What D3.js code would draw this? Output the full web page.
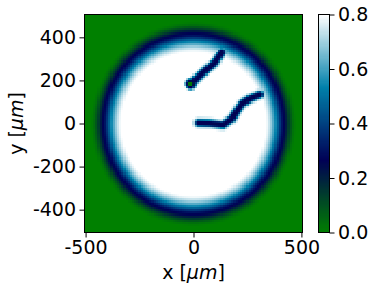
<!DOCTYPE html>
<html>
<head>
<meta charset="utf-8">
<script src="https://cdnjs.cloudflare.com/ajax/libs/d3/7.8.5/d3.min.js"></script>
<style>
  html, body { margin: 0; padding: 0; background: #fff; }
  svg { display: block; }
  text { font-family: "DejaVu Sans", sans-serif; fill: #000; }
  .tick text { font-size: 19px; }
  .axis-title { font-size: 19px; }
</style>
</head>
<body>
<svg id="chart"></svg>
<script>
// values
const xTicks = [-500, 0, 500];
const yTicks = [-400, -200, 0, 200, 400];
const barTicks = [0, 0.2, 0.4, 0.6, 0.8];

// field value against distance from the centre (um)
const ringDist = [0, 335, 345, 359, 378, 396, 405, 415, 424, 433, 443, 461, 475, 720];
const ringValue = [0.8, 0.8, 0.77, 0.7, 0.57, 0.42, 0.34, 0.28, 0.25, 0.19, 0.12, 0.03, 0, 0];

// field value against distance from a crack (um)
const crackDist = [0, 7, 12, 17, 22, 30];
const crackValue = [0.25, 0.27, 0.36, 0.55, 0.72, 0.8];

// cracks as [x, y] in um
const crackA = [[-13, 186], [45, 240], [100, 286], [131, 333]];
const crackB = [[22, 5], [76, 3], [137, -4], [177, 24], [223, 93], [262, 119], [308, 137]];
// green spot at the start of the upper crack
const spot = [-13, 186];
const spotDist = [0, 9, 13, 18, 25, 32];
const spotValue = [0, 0.03, 0.2, 0.3, 0.55, 0.8];

const gridEdges = d3.range(-505, 505, 10);

const width = 373;
const height = 292;
const margin = { top: 14.5, right: 70.5, bottom: 59.5, left: 84.5 };

const x = d3.scaleLinear().domain([-505, 505]).range([margin.left, width - margin.right]);
const y = d3.scaleLinear().domain([-506, 506]).range([height - margin.bottom, margin.top]);

// colormap
const color = d3.scaleLinear()
  .domain([0, 0.2667, 0.5333, 0.8])
  .range(["rgb(0,128,0)", "rgb(0,0,85)", "rgb(0,128,170)", "rgb(255,255,255)"])
  .clamp(true);

const ring = d3.scaleLinear().domain(ringDist).range(ringValue).clamp(true);
const crack = d3.scaleLinear().domain(crackDist).range(crackValue).clamp(true);
const spotScale = d3.scaleLinear().domain(spotDist).range(spotValue).clamp(true);

function segDist(px, py, a, b) {
  const dx = b[0] - a[0], dy = b[1] - a[1];
  const t = Math.max(0, Math.min(1, ((px - a[0]) * dx + (py - a[1]) * dy) / (dx * dx + dy * dy)));
  return Math.hypot(px - a[0] - t * dx, py - a[1] - t * dy);
}

function lineDist(px, py, line) {
  return d3.min(d3.pairs(line), p => segDist(px, py, p[0], p[1]));
}

const cells = [];
gridEdges.forEach(function(cx) {
  gridEdges.forEach(function(cy) {
    const mx = cx + 5, my = cy + 5;
    let v = ring(Math.hypot(mx, my));
    v = Math.min(v, crack(lineDist(mx, my, crackA)), crack(lineDist(mx, my, crackB)));
    v = Math.min(v, spotScale(Math.hypot(mx - spot[0], my - spot[1])));
    cells.push({ x: cx, y: cy, v: v });
  });
});

const svg = d3.select("#chart").attr("width", width).attr("height", height);

svg.append("g")
  .attr("shape-rendering", "crispEdges")
  .selectAll("rect")
  .data(cells)
  .join("rect")
  .attr("x", d => x(d.x))
  .attr("y", d => y(d.y + 10))
  .attr("width", x(10) - x(0) + 0.5)
  .attr("height", y(0) - y(10) + 0.5)
  .attr("fill", d => color(d.v));

const plain = d => String(d);

svg.append("g")
  .attr("transform", `translate(0, ${height - margin.bottom})`)
  .call(d3.axisBottom(x).tickValues(xTicks).tickFormat(plain).tickSize(5).tickPadding(3).tickSizeOuter(0));

svg.append("g")
  .attr("transform", `translate(${margin.left}, 0)`)
  .call(d3.axisLeft(y).tickValues(yTicks).tickFormat(plain).tickSize(5).tickPadding(3.5).tickSizeOuter(0));

// frame
svg.append("rect")
  .attr("x", margin.left).attr("y", margin.top)
  .attr("width", width - margin.right - margin.left)
  .attr("height", height - margin.bottom - margin.top)
  .attr("fill", "none").attr("stroke", "#000").attr("stroke-width", 1);

// colorbar
const barX = 318.5, barW = 11;
const barY = d3.scaleLinear().domain([0, 0.8]).range([height - margin.bottom, margin.top]);
svg.append("g")
  .attr("shape-rendering", "crispEdges")
  .selectAll("rect")
  .data(d3.range(0, 0.8, 0.004))
  .join("rect")
  .attr("x", barX)
  .attr("width", barW)
  .attr("y", d => barY(d + 0.004))
  .attr("height", barY(0) - barY(0.004) + 0.5)
  .attr("fill", d => color(d + 0.002));

svg.append("g")
  .attr("transform", `translate(${barX + barW}, 0)`)
  .call(d3.axisRight(barY).tickValues(barTicks).tickFormat(d3.format(".1f")).tickSize(5).tickPadding(3.5).tickSizeOuter(0));

svg.append("rect")
  .attr("x", barX).attr("y", margin.top)
  .attr("width", barW).attr("height", height - margin.bottom - margin.top)
  .attr("fill", "none").attr("stroke", "#000").attr("stroke-width", 1);

// axis titles
const xTitle = svg.append("text").attr("class", "axis-title")
  .attr("x", (margin.left + width - margin.right) / 2).attr("y", 279).attr("text-anchor", "middle");
xTitle.append("tspan").text("x [");
xTitle.append("tspan").attr("font-style", "italic").text("\u03bcm");
xTitle.append("tspan").text("]");

const yTitle = svg.append("text").attr("class", "axis-title")
  .attr("transform", `translate(23, ${(margin.top + height - margin.bottom) / 2}) rotate(-90)`)
  .attr("text-anchor", "middle");
yTitle.append("tspan").text("y [");
yTitle.append("tspan").attr("font-style", "italic").text("\u03bcm");
yTitle.append("tspan").text("]");

svg.selectAll(".domain").remove();
</script>
</body>
</html>
